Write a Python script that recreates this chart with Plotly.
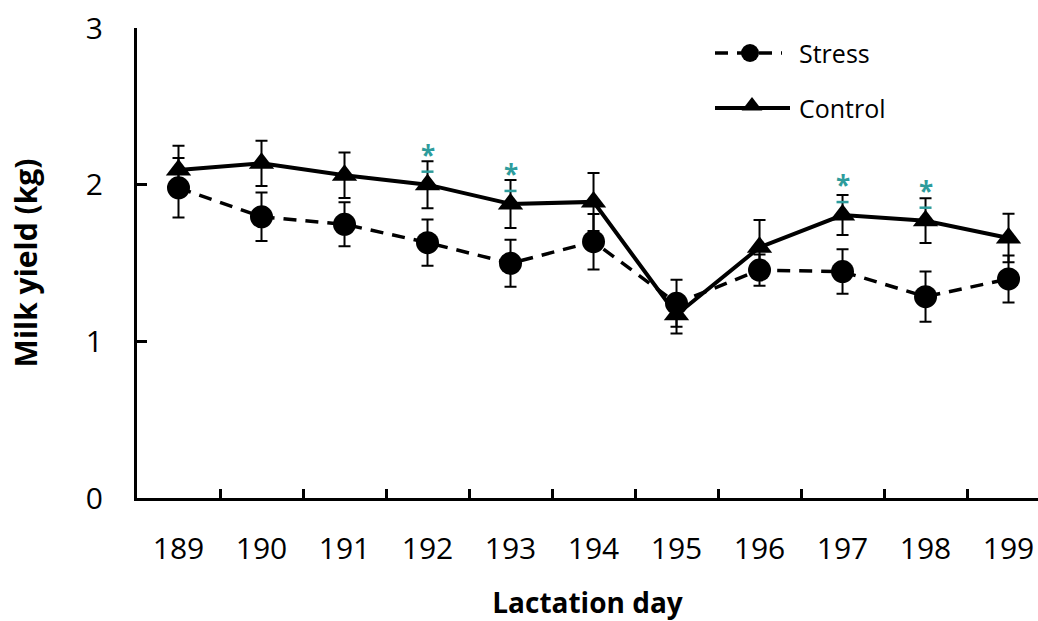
import plotly.graph_objects as go

days = ["189", "190", "191", "192", "193", "194", "195", "196", "197", "198", "199"]
stress = [1.98, 1.795, 1.747, 1.63, 1.498, 1.636, 1.243, 1.455, 1.445, 1.285, 1.398]
stress_err = [0.19, 0.155, 0.14, 0.148, 0.15, 0.177, 0.15, 0.10, 0.142, 0.16, 0.15]
control = [2.094, 2.136, 2.06, 2.00, 1.877, 1.89, 1.17, 1.60, 1.806, 1.77, 1.66]
control_err = [0.155, 0.145, 0.145, 0.15, 0.153, 0.185, 0.12, 0.175, 0.128, 0.143, 0.155]
significant = ["192", "193", "197", "198"]
y_ticks = [0, 1, 2, 3]

FONT = "Open Sans"
TEAL = "#2E9C9C"
W, H = 1038, 621
L, R, T, B = 137, 0, 28, 123
PW, PH = W - L - R, H - T - B


def px_x(px):
    return (px - L) / PW


def px_y(py):
    return (H - B - py) / PH


fig = go.Figure()

fig.add_trace(go.Scatter(
    x=days, y=stress, mode="lines+markers", name="Stress",
    line=dict(color="black", width=3.5, dash="13px,9px"),
    marker=dict(symbol="circle", size=23, color="black"),
    error_y=dict(type="data", array=stress_err, visible=True,
                 color="black", thickness=2, width=6),
    showlegend=False,
))
fig.add_trace(go.Scatter(
    x=days, y=control, mode="lines+markers", name="Control",
    line=dict(color="black", width=4),
    marker=dict(symbol="triangle-up", size=22, color="black"),
    error_y=dict(type="data", array=control_err, visible=True,
                 color="black", thickness=2, width=6),
    showlegend=False,
))

# significance marks
for d in significant:
    i = days.index(d)
    yv = control[i]
    fig.add_shape(type="line", xref="x", yref="y",
                  xsizemode="pixel", ysizemode="pixel",
                  xanchor=i, yanchor=yv, x0=-6, x1=6, y0=13, y1=13,
                  line=dict(color=TEAL, width=2.5))
    fig.add_annotation(x=i, y=yv, xref="x", yref="y", text="<b>*</b>",
                       showarrow=False, yshift=30,
                       font=dict(family=FONT, size=26, color=TEAL))

# custom legend (overlay axes in paper fractions)
fig.add_trace(go.Scatter(
    x=[px_x(715), px_x(782)], y=[px_y(53)] * 2, xaxis="x2", yaxis="y2",
    mode="lines", line=dict(color="black", width=3.5, dash="13px,9px"),
    showlegend=False, hoverinfo="skip"))
fig.add_trace(go.Scatter(
    x=[px_x(750)], y=[px_y(53)], xaxis="x2", yaxis="y2",
    mode="markers", marker=dict(symbol="circle", size=18, color="black"),
    showlegend=False, hoverinfo="skip"))
fig.add_trace(go.Scatter(
    x=[px_x(715), px_x(790)], y=[px_y(108)] * 2, xaxis="x2", yaxis="y2",
    mode="lines", line=dict(color="black", width=4),
    showlegend=False, hoverinfo="skip"))
fig.add_trace(go.Scatter(
    x=[px_x(752)], y=[px_y(106)], xaxis="x2", yaxis="y2",
    mode="markers", marker=dict(symbol="triangle-up", size=18, color="black"),
    showlegend=False, hoverinfo="skip"))
for name, py in [("Stress", 53), ("Control", 108)]:
    fig.add_annotation(x=px_x(797), y=px_y(py), xref="paper", yref="paper",
                       text=name, showarrow=False, xanchor="left", yanchor="middle",
                       font=dict(family=FONT, size=25, color="black"))

fig.update_layout(
    width=W, height=H,
    margin=dict(l=L, r=R, t=T, b=B),
    paper_bgcolor="white", plot_bgcolor="white",
    font=dict(family=FONT, color="black"),
    xaxis=dict(
        type="category", range=[-0.5, 10.355], tickson="boundaries",
        ticks="inside", ticklen=9, tickwidth=2.5, tickcolor="black",
        showline=True, linecolor="black", linewidth=3,
        showgrid=False, zeroline=False, automargin=False,
        tickfont=dict(family=FONT, size=30, color="black"),
        ticklabelstandoff=22,
        title=dict(text="<b>Lactation day</b>", standoff=28,
                   font=dict(family=FONT, size=28, color="black")),
    ),
    yaxis=dict(
        range=[0, 3], tickvals=y_ticks, ticks="inside", ticklen=10,
        tickwidth=2.5, tickcolor="black",
        showline=True, linecolor="black", linewidth=3,
        showgrid=False, zeroline=False, automargin=False,
        tickfont=dict(family=FONT, size=30, color="black"),
        ticklabelstandoff=25,
        title=dict(text="<b>Milk yield (kg)</b>", standoff=40,
                   font=dict(family=FONT, size=30, color="black")),
    ),
    xaxis2=dict(range=[0, 1], overlaying="x", visible=False, anchor="y2"),
    yaxis2=dict(range=[0, 1], overlaying="y", visible=False, anchor="x2"),
)

fig.write_html("out.html", config={"displayModeBar": False},
               post_script="document.body.style.margin='0';document.body.style.overflow='hidden';")
